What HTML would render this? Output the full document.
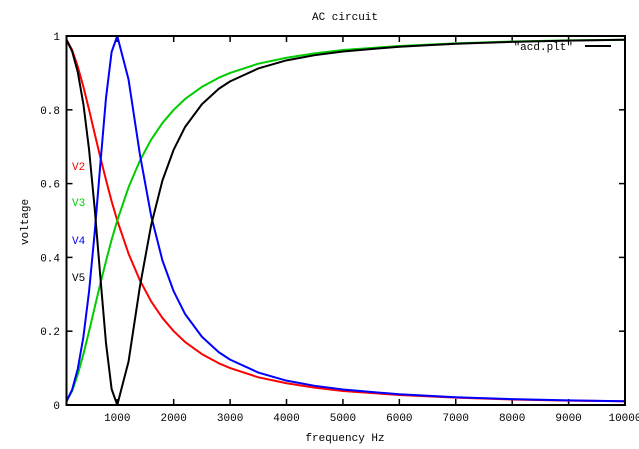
<!DOCTYPE html>
<html><head><meta charset="utf-8"><style>
html,body{margin:0;padding:0;background:#fff}
svg{display:block}
text{font-family:"Liberation Mono","DejaVu Sans Mono",monospace;font-size:11px}
</style></head><body>
<svg id="chart" width="639" height="449" viewBox="0 0 639 449" xmlns="http://www.w3.org/2000/svg">
<text x="345" y="20" text-anchor="middle">AC circuit</text>
<text transform="translate(28,222) rotate(-90)" text-anchor="middle">voltage</text>
<text x="345" y="441" text-anchor="middle">frequency  Hz</text>
<g id="ticks"></g>
<g id="series"></g>
<rect x="66.5" y="36" width="558.5" height="369" fill="none" stroke="#000" stroke-width="2"/>
<text x="573" y="50" text-anchor="end">"acd.plt"</text>
<line x1="585" y1="46" x2="611" y2="46" stroke="#000" stroke-width="2"/>
<text x="72" y="170" fill="#f00">V2</text>
<text x="72" y="206" fill="#0c0">V3</text>
<text x="72" y="244" fill="#00f">V4</text>
<text x="72" y="281" fill="#000">V5</text>
</svg>
<script>
const freqs=[100,200,300,400,500,600,700,800,900,1000,1200,1400,1600,1800,2000,2200,2500,2800,3000,3500,4000,4500,5000,6000,7000,8000,9000,10000];
const v2=[.990,.962,.917,.862,.8,.735,.671,.610,.552,.5,.410,.338,.281,.236,.2,.171,.138,.113,.1,.075,.059,.047,.038,.027,.02,.015,.012,.01];
const v3=[.010,.038,.083,.138,.2,.265,.329,.390,.448,.5,.590,.662,.719,.764,.8,.829,.862,.887,.9,.925,.941,.953,.962,.973,.98,.985,.988,.99];
const v4=[.0101,.0416,.098,.185,.308,.468,.653,.832,.957,1,.882,.68,.513,.392,.308,.247,.185,.143,.123,.088,.066,.052,.042,.029,.021,.016,.0125,.0101];
const v5=[.9899,.9584,.902,.815,.692,.532,.347,.168,.043,0,.118,.32,.487,.608,.692,.753,.815,.857,.877,.912,.934,.948,.958,.971,.979,.984,.9875,.9899];
const xTicks=[1000,2000,3000,4000,5000,6000,7000,8000,9000,10000];
const yTicks=[0,0.2,0.4,0.6,0.8,1];
const yTickLabels=["0","0.2","0.4","0.6","0.8","1"];
const X0=66.5,X1=625,Y0=405,Y1=36,XMIN=100,XMAX=10000;
function sx(v){return X0+(v-XMIN)/(XMAX-XMIN)*(X1-X0);}
function sy(v){return Y0-v*(Y0-Y1);}
const NS="http://www.w3.org/2000/svg";
const tg=document.getElementById('ticks');
function mk(tag,attrs,parent){const e=document.createElementNS(NS,tag);for(const k in attrs)e.setAttribute(k,attrs[k]);parent.appendChild(e);return e;}
xTicks.forEach(t=>{
  const x=sx(t);
  const a=mk('line',{x1:x,y1:Y0,x2:x,y2:Y0-6,stroke:'#000','stroke-width':1.5},tg);
  
  
  const b=mk('line',{x1:x,y1:Y1,x2:x,y2:Y1+6,stroke:'#000','stroke-width':1.5},tg);
  
  
  const l=mk('text',{x:x,y:421,'text-anchor':'middle'},tg);
  l.textContent=String(t);
  
  
});
yTicks.forEach((t,i)=>{
  const y=sy(t);
  const a=mk('line',{x1:X0,y1:y,x2:X0+6,y2:y,stroke:'#000','stroke-width':1.5},tg);
  
  
  const b=mk('line',{x1:X1,y1:y,x2:X1-6,y2:y,stroke:'#000','stroke-width':1.5},tg);
  
  
  const l=mk('text',{x:60,y:y+4,'text-anchor':'end'},tg);
  l.textContent=yTickLabels[i];
  
  
});
const sg=document.getElementById('series');
[[v2,'#f00','v2-line'],[v3,'#0c0','v3-line'],[v4,'#00f','v4-line'],[v5,'#000','v5-line']].forEach(s=>{
  const d=freqs.map((f,i)=>(i?'L':'M')+sx(f).toFixed(2)+','+sy(s[0][i]).toFixed(2)).join(' ');
  const p=mk('path',{d:d,fill:'none',stroke:s[1],'stroke-width':2,'stroke-linejoin':'round'},sg);
  
  
});
</script>
</body></html>
